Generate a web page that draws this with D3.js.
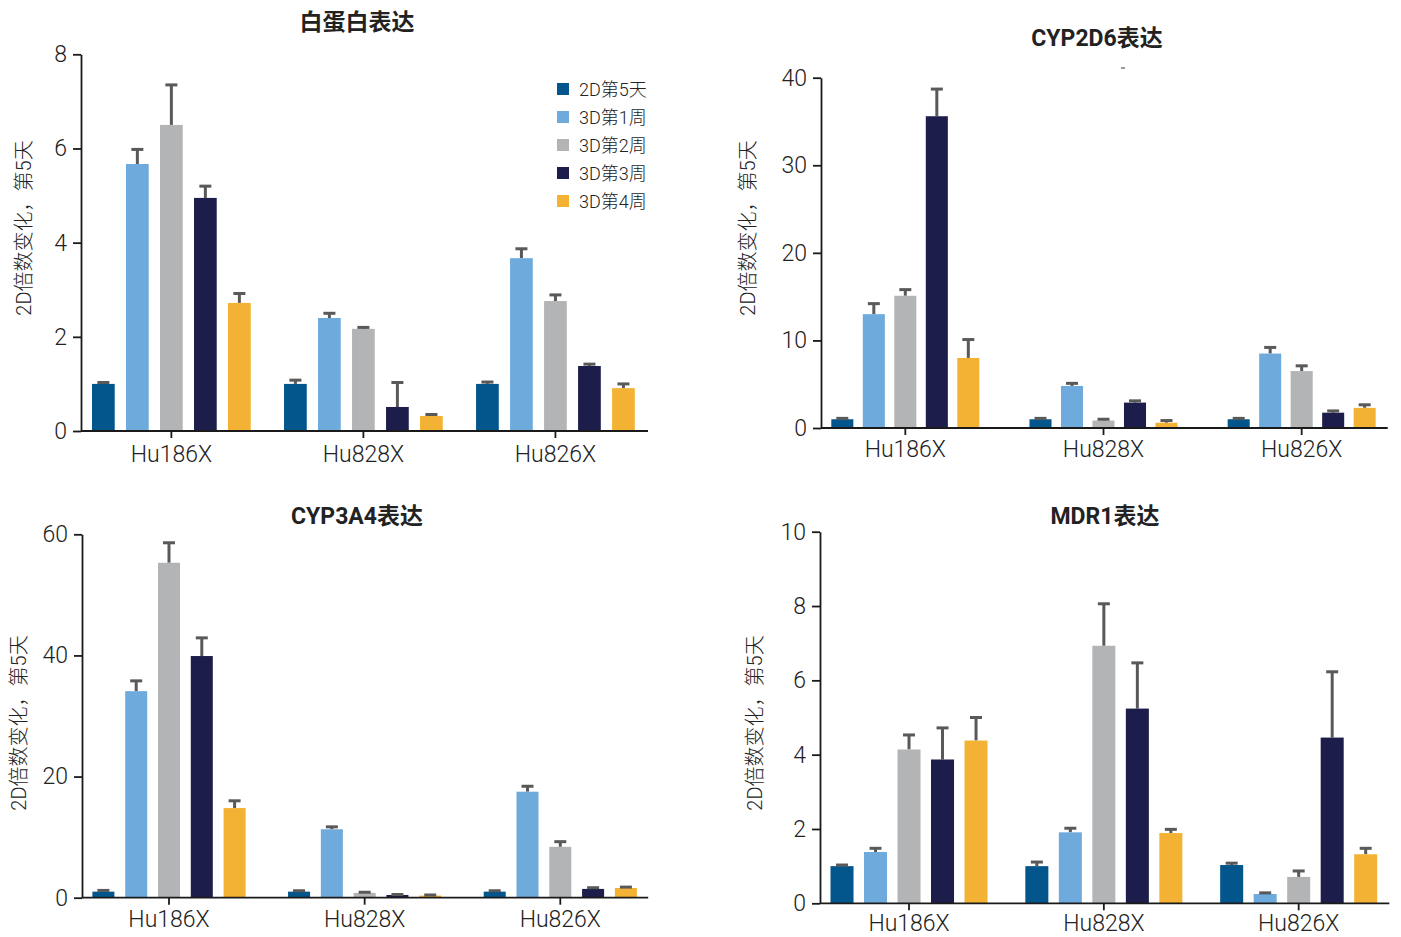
<!DOCTYPE html>
<html>
<head>
<meta charset="utf-8">
<script src="https://cdn.jsdelivr.net/npm/d3@7"></script>
<style>
  body { margin: 0; background: #fff; }
  svg text { font-family: "Roboto", "Liberation Sans", "Noto Sans CJK SC", sans-serif; fill: #222; }
</style>
</head>
<body>
<svg id="chart" width="1401" height="937"></svg>
<script>
// ---- data ----
const cellLines = ["Hu186X", "Hu828X", "Hu826X"];
const conditions = ["2D第5天", "3D第1周", "3D第2周", "3D第3周", "3D第4周"];
const conditionColors = ["#02568c", "#6eaadc", "#b3b4b6", "#1c1d4b", "#f4b234"];
const yAxisTitle = "2D倍数变化，第5天";

// mean fold change per cell line (rows) and condition (columns)
const albuminMean = [[1.0, 5.67, 6.5, 4.95, 2.72], [1.0, 2.4, 2.17, 0.51, 0.32], [1.0, 3.67, 2.76, 1.38, 0.91]];
const albuminSD   = [[0.03, 0.31, 0.85, 0.25, 0.2], [0.08, 0.1, 0.03, 0.52, 0.03], [0.04, 0.2, 0.13, 0.04, 0.09]];
const albuminTicks = [0, 2, 4, 6, 8];

const cyp2d6Mean = [[1.0, 13.0, 15.1, 35.6, 8.0], [1.0, 4.8, 0.85, 2.9, 0.6], [1.0, 8.5, 6.5, 1.75, 2.3]];
const cyp2d6SD   = [[0.1, 1.2, 0.7, 3.1, 2.1], [0.1, 0.3, 0.15, 0.2, 0.25], [0.1, 0.7, 0.6, 0.2, 0.35]];
const cyp2d6Ticks = [0, 10, 20, 30, 40];

const cyp3a4Mean = [[1.0, 34.1, 55.3, 39.9, 14.8], [1.0, 11.3, 0.8, 0.45, 0.35], [1.0, 17.5, 8.4, 1.45, 1.6]];
const cyp3a4SD   = [[0.2, 1.7, 3.3, 3.0, 1.2], [0.15, 0.4, 0.1, 0.08, 0.1], [0.15, 0.9, 0.85, 0.2, 0.15]];
const cyp3a4Ticks = [0, 20, 40, 60];

const mdr1Mean = [[1.0, 1.38, 4.14, 3.87, 4.38], [1.0, 1.91, 6.93, 5.24, 1.89], [1.03, 0.25, 0.71, 4.46, 1.32]];
const mdr1SD   = [[0.03, 0.1, 0.39, 0.85, 0.62], [0.11, 0.11, 1.13, 1.23, 0.1], [0.05, 0.03, 0.16, 1.77, 0.16]];
const mdr1Ticks = [0, 2, 4, 6, 8, 10];

// ---- layout of the four panels ----
const panels = [
  { title: "白蛋白表达", mean: albuminMean, sd: albuminSD, ticks: albuminTicks,
    axisX: [81, 648], axisY: [431, 54.3], bands: [92, 634.8], groupPad: 0.1734, barPad: 0.332,
    titlePos: [357, 30], yTitlePos: [24, 228], labelPad: 8, legend: true },
  { title: "CYP2D6表达", mean: cyp2d6Mean, sd: cyp2d6SD, ticks: cyp2d6Ticks,
    axisX: [821, 1387.7], axisY: [428, 77.7], bands: [831.3, 1375.7], groupPad: 0.253, barPad: 0.30,
    titlePos: [1097, 46], yTitlePos: [748, 228], labelPad: 6, mark: [1121, 68] },
  { title: "CYP3A4表达", mean: cyp3a4Mean, sd: cyp3a4SD, ticks: cyp3a4Ticks,
    axisX: [82, 648.2], axisY: [897.7, 534.3], bands: [92.4, 636.9], groupPad: 0.217, barPad: 0.329,
    titlePos: [357, 523.5], yTitlePos: [19, 723], labelPad: 6.4 },
  { title: "MDR1表达", mean: mdr1Mean, sd: mdr1SD, ticks: mdr1Ticks,
    axisX: [820, 1389.3], axisY: [903.3, 531.7], bands: [830.5, 1377.2], groupPad: 0.194, barPad: 0.313,
    titlePos: [1105, 523.5], yTitlePos: [755, 723], labelPad: 4.2 }
];

const svg = d3.select("#chart");
const color = d3.scaleOrdinal().domain(conditions).range(conditionColors);
const errColor = "#595959";
const latinLight = "\"Roboto\", \"Liberation Sans\", \"Noto Sans CJK SC\", sans-serif";

panels.forEach(p => {
  const g = svg.append("g");
  const yMax = p.ticks[p.ticks.length - 1];
  const y = d3.scaleLinear().domain([0, yMax]).range(p.axisY);
  const x0 = d3.scaleBand().domain(cellLines).range(p.bands).paddingInner(p.groupPad).paddingOuter(0);
  const x1 = d3.scaleBand().domain(conditions).range([0, x0.bandwidth()]).paddingInner(p.barPad).paddingOuter(0);

  // bars
  const groups = g.selectAll("g.grp").data(cellLines).join("g")
    .attr("class", "grp")
    .attr("transform", d => `translate(${x0(d)},0)`);

  const rows = i => conditions.map((c, j) => ({ c, v: p.mean[i][j], e: p.sd[i][j] }));

  groups.each(function (d, i) {
    const sel = d3.select(this);
    const items = rows(i);
    // error bars (upper only)
    sel.selectAll("line.err").data(items).join("line")
      .attr("class", "err")
      .attr("x1", r => x1(r.c) + x1.bandwidth() / 2)
      .attr("x2", r => x1(r.c) + x1.bandwidth() / 2)
      .attr("y1", r => y(r.v))
      .attr("y2", r => y(r.v + r.e))
      .attr("stroke", errColor).attr("stroke-width", 3);
    sel.selectAll("rect.bar").data(items).join("rect")
      .attr("class", "bar")
      .attr("x", r => x1(r.c))
      .attr("width", x1.bandwidth())
      .attr("y", r => y(r.v))
      .attr("height", r => y(0) - y(r.v))
      .attr("fill", r => color(r.c));
    sel.selectAll("line.cap").data(items).join("line")
      .attr("class", "cap")
      .attr("x1", r => x1(r.c) + x1.bandwidth() / 2 - 6)
      .attr("x2", r => x1(r.c) + x1.bandwidth() / 2 + 6)
      .attr("y1", r => y(r.v + r.e))
      .attr("y2", r => y(r.v + r.e))
      .attr("stroke", errColor).attr("stroke-width", 3);
  });

  // y axis
  const yAxis = g.append("g")
    .attr("transform", `translate(${p.axisX[0]},0)`)
    .call(d3.axisLeft(y).tickValues(p.ticks).tickFormat(d3.format("d")).tickSize(8).tickSizeOuter(0).tickPadding(6));
  yAxis.select(".domain").attr("stroke", "#1a1a1a").attr("stroke-width", 1.8);
  yAxis.selectAll(".tick line").attr("stroke", "#1a1a1a").attr("stroke-width", 1.8);
  yAxis.selectAll(".tick text").attr("font-family", latinLight).attr("font-size", 23).attr("font-weight", 300).attr("fill", "#222");

  // x axis
  g.append("line")
    .attr("x1", p.axisX[0]).attr("x2", p.axisX[1])
    .attr("y1", p.axisY[0]).attr("y2", p.axisY[0])
    .attr("stroke", "#1a1a1a").attr("stroke-width", 1.8);
  const xAxis = g.append("g")
    .attr("transform", `translate(0,${p.axisY[0]})`)
    .call(d3.axisBottom(x0).tickSize(7).tickPadding(p.labelPad));
  xAxis.select(".domain").remove();
  xAxis.selectAll(".tick line").attr("stroke", "#1a1a1a").attr("stroke-width", 1.8);
  xAxis.selectAll(".tick text").attr("font-family", latinLight).attr("font-size", 23).attr("font-weight", 300).attr("fill", "#222");

  // titles
  g.append("text")
    .attr("x", p.titlePos[0]).attr("y", p.titlePos[1])
    .attr("text-anchor", "middle")
    .attr("font-family", "\"Liberation Sans\", \"Noto Sans CJK SC\", sans-serif")
    .attr("font-size", 23).attr("font-weight", 700)
    .attr("fill", "#111")
    .text(p.title);
  g.append("text")
    .attr("transform", `translate(${p.yTitlePos[0]},${p.yTitlePos[1]}) rotate(-90)`)
    .attr("text-anchor", "middle")
    .attr("dominant-baseline", "central")
    .attr("font-size", 20).attr("font-weight", 300)
    .attr("fill", "#222")
    .text(yAxisTitle);

  if (p.mark) {
    g.append("line")
      .attr("x1", p.mark[0]).attr("x2", p.mark[0] + 4)
      .attr("y1", p.mark[1]).attr("y2", p.mark[1])
      .attr("stroke", "#555").attr("stroke-width", 1.2);
  }

  if (p.legend) {
    const lg = g.append("g").attr("transform", "translate(557,89)");
    const item = lg.selectAll("g").data(conditions).join("g")
      .attr("transform", (d, i) => `translate(0,${i * 28})`);
    item.append("rect")
      .attr("x", 0).attr("y", -6).attr("width", 12).attr("height", 12)
      .attr("fill", d => color(d));
    item.append("text")
      .attr("x", 22).attr("y", 0)
      .attr("dominant-baseline", "central")
      .attr("font-size", 18).attr("font-weight", 300)
      .attr("fill", "#222")
      .text(d => d);
  }
});
</script>
</body>
</html>
